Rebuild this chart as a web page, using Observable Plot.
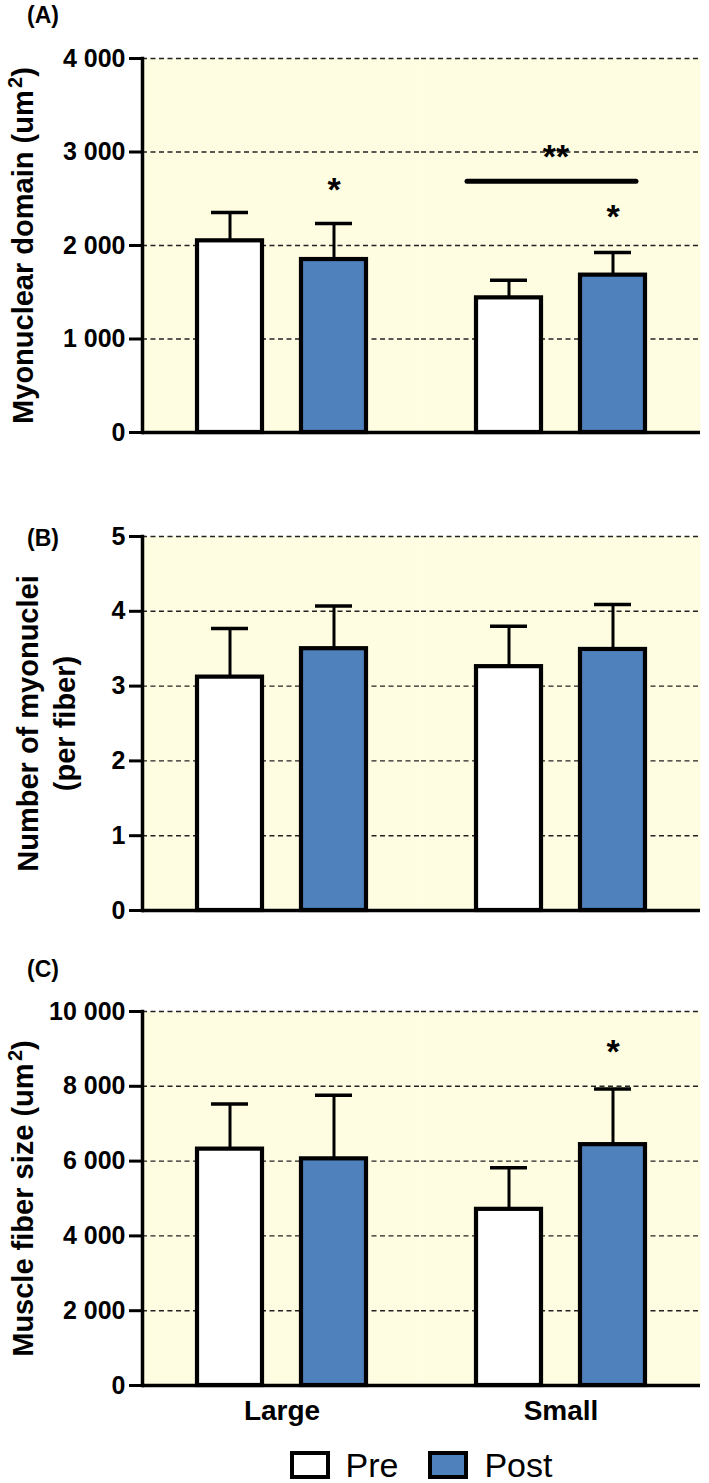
<!DOCTYPE html>
<html><head><meta charset="utf-8">
<script src="https://cdn.jsdelivr.net/npm/d3@7"></script>
<script src="https://cdn.jsdelivr.net/npm/@observablehq/plot@0.6"></script>
<style>
body{margin:0;background:#fff;}
#fig{position:relative;width:709px;height:1483px;overflow:hidden;font-family:"Liberation Sans",Arial,sans-serif;color:#000;}
.panel{position:absolute;left:0;}
.plabel{position:absolute;left:27px;font-weight:bold;font-size:23px;line-height:1;}
#legend{position:absolute;left:142px;width:558px;top:1448px;height:34px;display:flex;justify-content:center;align-items:center;font-size:34px;line-height:1;}
.sw{display:inline-block;box-sizing:border-box;width:40px;height:28px;border:4px solid #000;margin-right:16px;}
.li{display:flex;align-items:center;}
.li + .li{margin-left:30px;}
</style></head><body><div id="fig"></div>
<script>
// ---- data ----
const groups = ["Large", "Small"];
const conditions = ["Pre", "Post"];
const barGroup = ["Large", "Large", "Small", "Small"];
const barCond = ["Pre", "Post", "Pre", "Post"];

// (A) Myonuclear domain (um2)
const domainMean = [2050, 1850, 1440, 1683];
const domainErr  = [303, 385, 189, 242];
const domainTicks = [0, 1000, 2000, 3000, 4000];
// (B) Number of myonuclei (per fiber)
const nucleiMean = [3.12, 3.50, 3.26, 3.49];
const nucleiErr  = [0.65, 0.57, 0.54, 0.60];
const nucleiTicks = [0, 1, 2, 3, 4, 5];
// (C) Muscle fiber size (um2)
const sizeMean = [6320, 6060, 4710, 6440];
const sizeErr  = [1210, 1700, 1110, 1490];
const sizeTicks = [0, 2000, 4000, 6000, 8000, 10000];

// significance annotations
const starsA = [{group: "Large", cond: "Post", y: 2645, t: "*"}, {group: "Small", cond: "Post", y: 2360, t: "*"}];
const sigA = [{group: "Small", y: 3000, t: "**"}];
const bracketA = [{group: "Small", from: "Pre", to: "Post", y: 2688}];
const starsC = [{group: "Small", cond: "Post", y: 9040, t: "*"}];

const colors = ["#ffffff", "#4f81bd"];

const rowsOf = (mean, err) => mean.map((m, i) => ({group: barGroup[i], cond: barCond[i], mean: m, err: err[i]}));
const fmt = d => d3.format(",")(d).replace(/,/g, " ");

function panel(o) {
  const rows = rowsOf(o.mean, o.err);
  const marks = [
    Plot.frame({fill: "#fefde1", stroke: null}),
    Plot.gridY(o.ticks, {stroke: "#222", strokeOpacity: 1, strokeWidth: 1.4, strokeDasharray: "5,3.5"}),
    Plot.ruleX(rows, {fx: "group", x: "cond", y1: "mean", y2: d => d.mean + d.err, stroke: "black", strokeWidth: 3}),
    Plot.tickY(rows, {fx: "group", x: "cond", y: d => d.mean + d.err, stroke: "black", strokeWidth: 3.5, insetLeft: 14, insetRight: 14}),
    Plot.barY(rows, {fx: "group", x: "cond", y: "mean", fill: "cond", stroke: "black", strokeWidth: 4.2}),
    Plot.ruleY([0], {stroke: "black", strokeWidth: 3.5}),
    Plot.frame({anchor: "left", facetAnchor: "left", stroke: "black", strokeWidth: 3.5}),
    Plot.axisY(o.ticks, {anchor: "left", tickSize: 13, tickPadding: 4, strokeWidth: 3, tickFormat: fmt, fontSize: 25, fontWeight: "bold", label: null}),
    Plot.text([{group: "Large"}], {fx: "group", frameAnchor: "left", text: () => o.title, rotate: -90, dx: o.titleDx, fontSize: 29, fontWeight: "bold", lineHeight: 1.3, textAnchor: "middle", lineAnchor: "middle"})
  ];
  if (o.stars) marks.push(Plot.text(o.stars, {fx: "group", x: "cond", y: "y", text: "t", fontSize: 34, fontWeight: "bold", dy: 5}));
  if (o.sig) marks.push(Plot.text(o.sig, {fx: "group", y: "y", text: "t", fontSize: 34, fontWeight: "bold", dy: 5, dx: -5}));
  if (o.bracket) marks.push(Plot.ruleY(o.bracket, {fx: "group", x1: "from", x2: "to", y: "y", stroke: "black", strokeWidth: 5, strokeLinecap: "round", dx: -9}));
  if (o.fxAxis) marks.push(Plot.axisFx({anchor: "bottom", tickSize: 0, tickPadding: 15, fontSize: 28, fontWeight: "bold", label: null}));
  return Plot.plot({
    width: 709, height: o.height,
    marginLeft: 142, marginRight: 9, marginTop: o.marginTop, marginBottom: o.marginBottom,
    style: {fontFamily: "'Liberation Sans', Arial, sans-serif", fontSize: "25px", color: "black", background: "transparent", overflow: "visible"},
    fx: {domain: groups, padding: 0, round: false, axis: null, label: null},
    x: {domain: conditions, paddingInner: 0.375, paddingOuter: 0.529, round: false, axis: null},
    y: {domain: [0, d3.max(o.ticks)], axis: null, label: null},
    color: {domain: conditions, range: colors},
    marks
  });
}

// render "um2" with a real raised superscript 2
function superscripts(svg) {
  svg.querySelectorAll("text").forEach(t => {
    if (t.children.length || !t.textContent.includes("²")) return;
    const [before, after] = t.textContent.split("²");
    t.textContent = "";
    const ns = "http://www.w3.org/2000/svg";
    const a = document.createElementNS(ns, "tspan"); a.textContent = before + "\u200a";
    const s = document.createElementNS(ns, "tspan"); s.textContent = "2";
    s.setAttribute("font-size", "20"); s.setAttribute("dy", "-11");
    const b = document.createElementNS(ns, "tspan"); b.textContent = after; b.setAttribute("dy", "11");
    t.append(a, s, b);
  });
}

const fig = document.getElementById("fig");
const specs = [
  {top: 0, height: 460, marginTop: 58, marginBottom: 28, mean: domainMean, err: domainErr, ticks: domainTicks,
   title: "Myonuclear domain (um²)", titleDx: -122, stars: starsA, sig: sigA, bracket: bracketA, label: "(A)", labelTop: 4},
  {top: 460, height: 460, marginTop: 76, marginBottom: 10, mean: nucleiMean, err: nucleiErr, ticks: nucleiTicks,
   title: "Number of myonuclei\n(per fiber)", titleDx: -98, label: "(B)", labelTop: 527},
  {top: 920, height: 563, marginTop: 91, marginBottom: 98, mean: sizeMean, err: sizeErr, ticks: sizeTicks,
   title: "Muscle fiber size (um²)", titleDx: -122, stars: starsC, fxAxis: true, label: "(C)", labelTop: 958}
];
for (const s of specs) {
  const p = panel(s);
  superscripts(p);
  p.classList.add("panel");
  p.style.top = s.top + "px";
  fig.appendChild(p);
  const l = document.createElement("div");
  l.className = "plabel";
  l.style.top = s.labelTop + "px";
  l.textContent = s.label;
  fig.appendChild(l);
}
const legend = document.createElement("div");
legend.id = "legend";
legend.innerHTML = conditions.map((c, i) =>
  `<div class="li"><span class="sw" style="background:${colors[i]}"></span><span>${c}</span></div>`).join("");
fig.appendChild(legend);
</script>
</body></html>
